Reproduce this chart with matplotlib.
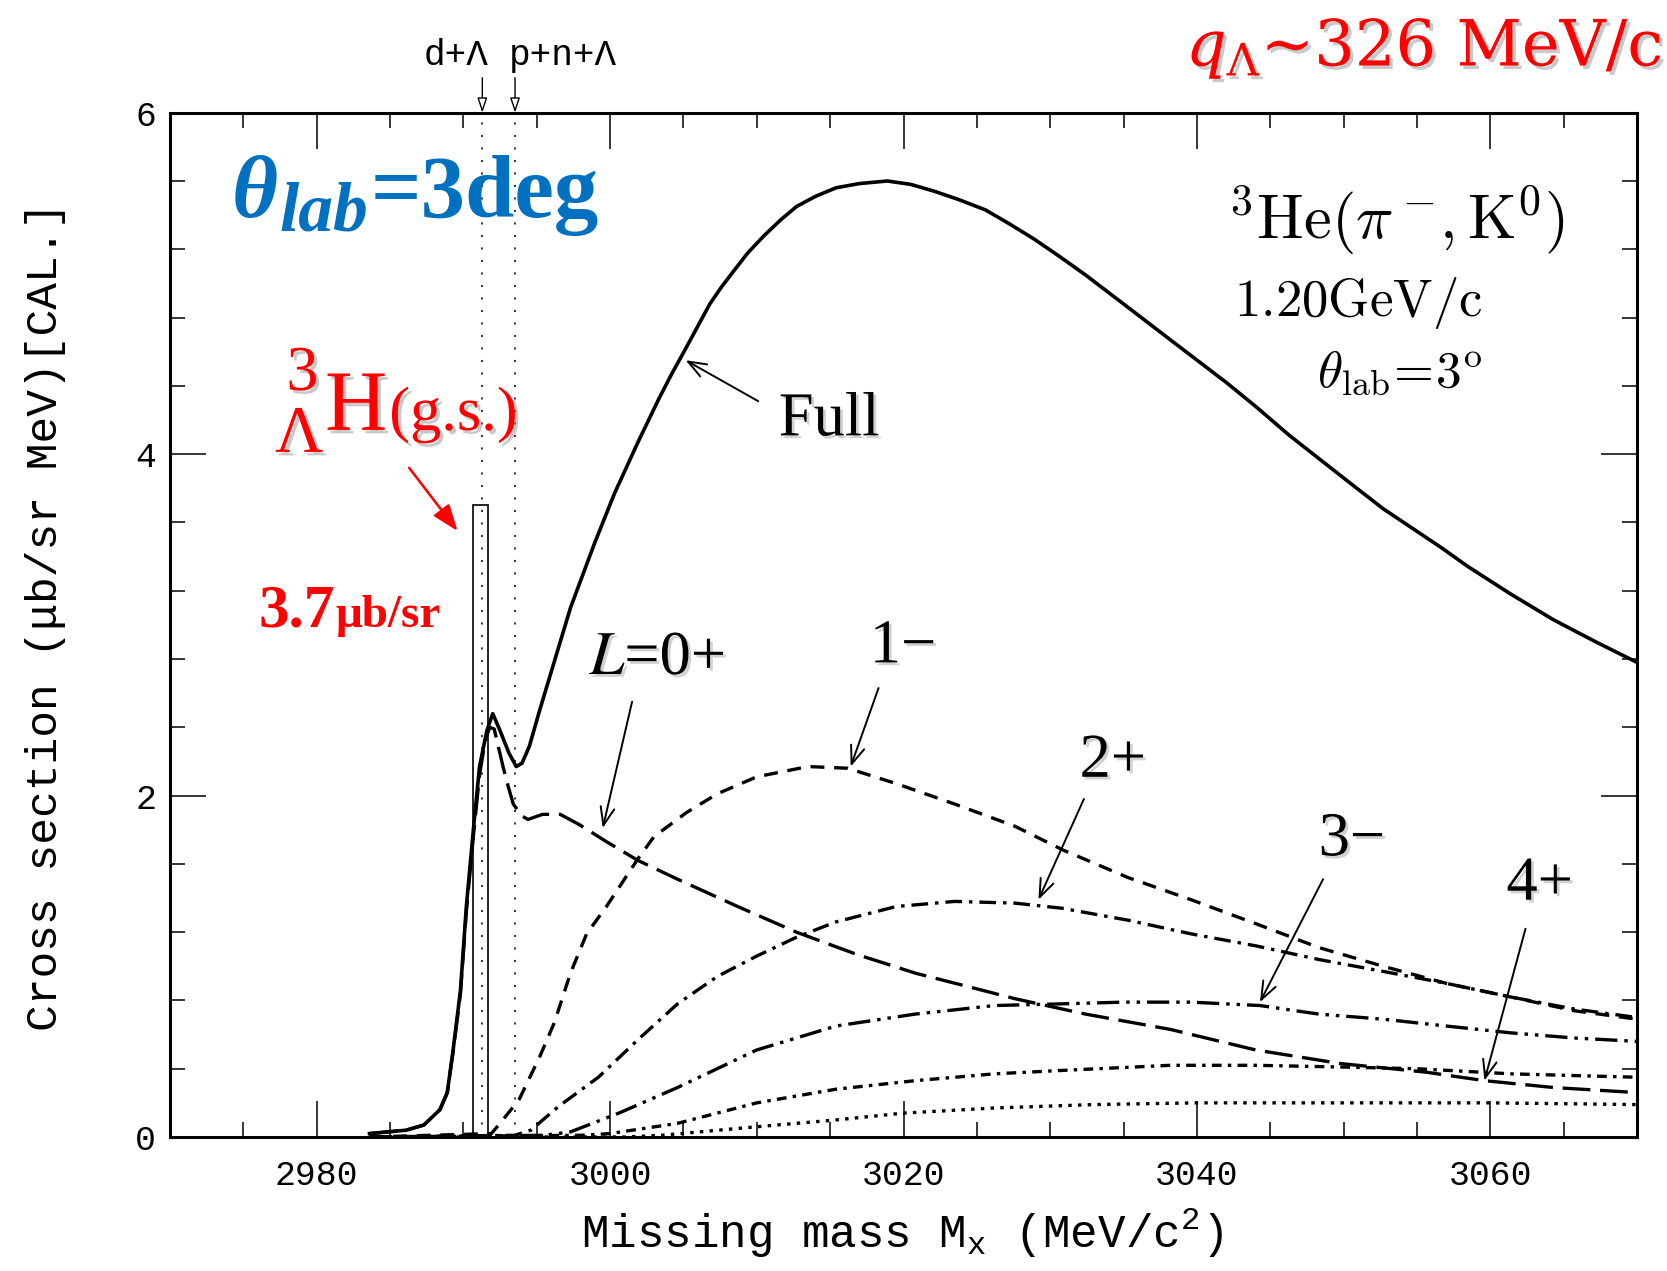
import numpy as np
import matplotlib
matplotlib.use("Agg")
import matplotlib.pyplot as plt
import matplotlib.patheffects as pe
import matplotlib.transforms as mtransforms
from matplotlib.patches import Rectangle
from matplotlib.ticker import MultipleLocator

plt.rcParams["font.family"] = "Liberation Mono"
plt.rcParams["lines.scale_dashes"] = False
plt.rcParams["mathtext.fontset"] = "custom"
plt.rcParams["mathtext.rm"] = "Liberation Mono"
plt.rcParams["mathtext.it"] = "Liberation Mono:italic"

# ---------------------------------------------------------------- data
# Missing mass (MeV/c^2) and cross sections (ub/sr MeV), 3He(pi-,K0) at 1.20 GeV/c, 3 deg
full_x = [2983.6, 2986.1, 2987.3, 2988.4, 2988.9, 2989.3, 2989.8, 2990.2, 2990.7, 2991.1,
          2991.6, 2992.0, 2992.5, 2993.1, 2993.6, 2994.0, 2994.5, 2995.2, 2996.6, 2997.3,
          2998.95, 3000.3, 3001.9, 3003.3, 3004.2, 3005.1, 3006.8, 3007.6, 3008.4, 3009.4,
          3010.5, 3011.6, 3012.7, 3014.0, 3015.4, 3017.0, 3018.9, 3020.5, 3022.1, 3023.8,
          3025.6, 3027.2, 3028.9, 3030.6, 3032.4, 3035.3, 3039.1, 3042.0, 3044.0, 3046.3,
          3050.6, 3052.7, 3056.7, 3058.5, 3061.4, 3064.3, 3067.2, 3070.0]
full_y = [0.02, 0.04, 0.07, 0.16, 0.26, 0.51, 0.86, 1.35, 1.82, 2.17,
          2.38, 2.48, 2.38, 2.25, 2.17, 2.19, 2.29, 2.50, 2.90, 3.10,
          3.48, 3.77, 4.07, 4.32, 4.47, 4.61, 4.88, 4.98, 5.07, 5.18,
          5.28, 5.37, 5.45, 5.51, 5.56, 5.585, 5.60, 5.58, 5.54, 5.49,
          5.43, 5.35, 5.26, 5.16, 5.05, 4.86, 4.61, 4.42, 4.28, 4.11,
          3.82, 3.68, 3.45, 3.34, 3.18, 3.03, 2.90, 2.78]

l0_x = [2983.6, 2986.1, 2987.3, 2988.4, 2988.9, 2989.3, 2989.8, 2990.2, 2990.7, 2991.1,
        2991.5, 2991.8, 2992.1, 2992.7, 2993.0, 2993.4, 2994.0, 2994.4, 2995.4, 2996.6,
        2997.9, 2999.75, 3001.9, 3004.6, 3008.7, 3012.7, 3016.8, 3020.8, 3024.9, 3027.6,
        3030.8, 3032.4, 3038.2, 3044.0, 3049.8, 3055.6, 3059.6, 3064.3, 3070.0]
l0_y = [0.02, 0.04, 0.07, 0.16, 0.26, 0.50, 0.84, 1.32, 1.78, 2.12,
        2.33, 2.40, 2.39, 2.17, 2.07, 1.95, 1.88, 1.86, 1.89, 1.89,
        1.83, 1.73, 1.62, 1.51, 1.35, 1.20, 1.07, 0.96, 0.87, 0.81,
        0.75, 0.72, 0.63, 0.51, 0.43, 0.38, 0.33, 0.29, 0.26]

l1_x = [2983.6, 2991.9, 2992.5, 2993.8, 2995.2, 2996.2, 2997.3, 2998.4, 2999.75, 3001.9,
        3003.0, 3005.2, 3007.3, 3010.0, 3013.5, 3016.2, 3019.5, 3023.5, 3027.6, 3030.9,
        3035.3, 3039.6, 3044.0, 3048.3, 3052.7, 3057.0, 3061.4, 3065.7, 3070.0]
l1_y = [0.00, 0.02, 0.08, 0.22, 0.47, 0.67, 0.96, 1.19, 1.35, 1.63,
        1.76, 1.90, 2.01, 2.11, 2.17, 2.16, 2.07, 1.95, 1.82, 1.68,
        1.52, 1.39, 1.25, 1.11, 1.00, 0.90, 0.82, 0.74, 0.69]

l2_x = [2983.6, 2993.5, 2994.6, 2996.5, 2999.2, 3001.9, 3004.6, 3007.3, 3010.0, 3012.7,
        3015.4, 3019.5, 3023.5, 3027.6, 3030.8, 3035.3, 3039.6, 3044.0, 3048.3, 3052.7,
        3057.0, 3061.4, 3065.7, 3070.0]
l2_y = [0.00, 0.01, 0.04, 0.18, 0.35, 0.57, 0.78, 0.94, 1.06, 1.17,
        1.26, 1.35, 1.38, 1.37, 1.34, 1.27, 1.19, 1.12, 1.04, 0.97,
        0.90, 0.82, 0.75, 0.70]

l3_x = [2983.6, 2995.5, 2997.3, 3000.6, 3004.6, 3010.0, 3015.4, 3020.8, 3026.2, 3030.8,
        3035.0, 3039.6, 3044.3, 3048.3, 3052.7, 3057.0, 3061.4, 3065.7, 3070.0]
l3_y = [0.00, 0.01, 0.03, 0.14, 0.29, 0.51, 0.65, 0.72, 0.77, 0.78,
        0.79, 0.79, 0.77, 0.72, 0.69, 0.65, 0.61, 0.58, 0.56]

l4_x = [2983.6, 2998.0, 3000.0, 3004.6, 3010.0, 3015.4, 3020.8, 3026.2, 3030.8, 3038.2,
        3044.0, 3049.8, 3055.0, 3061.4, 3070.0]
l4_y = [0.00, 0.01, 0.02, 0.08, 0.20, 0.28, 0.33, 0.37, 0.39, 0.42,
        0.42, 0.41, 0.40, 0.37, 0.35]

l5_x = [2983.6, 3001.0, 3003.5, 3010.0, 3015.4, 3020.0, 3026.2, 3033.0, 3040.0, 3050.0,
        3060.0, 3070.0]
l5_y = [0.00, 0.00, 0.01, 0.06, 0.10, 0.14, 0.17, 0.19, 0.20, 0.20,
        0.20, 0.19]

# bound state and thresholds
gs_mass = 2991.17          # 3_Lambda H ground state
gs_xs = 3.7                # ub/sr
gs_bin = 1.06              # MeV
thr_dL = 2991.29           # d + Lambda
thr_pnL = 2993.52          # p + n + Lambda

x_ticks = [2980, 3000, 3020, 3040, 3060]
y_ticks = [0, 2, 4, 6]

# ---------------------------------------------------------------- figure
W, H = 1667, 1271
fig = plt.figure(figsize=(W / 100, H / 100), dpi=100)
ax = fig.add_axes([170 / W, 1 - 1137 / H, (1637 - 170) / W, (1137 - 112.7) / H])
ax.set_xlim(2970, 3070)
ax.set_ylim(0, 6)

black = "black"
lw = 2.4
ax.plot(full_x, full_y, color=black, lw=2.6, solid_joinstyle="round")
ax.plot(l0_x, l0_y, color=black, lw=lw, linestyle=(0, (20, 7)))
ax.plot(l1_x, l1_y, color=black, lw=lw, linestyle=(0, (10, 7)))
ax.plot(l2_x, l2_y, color=black, lw=lw, linestyle=(0, (12, 5, 2.5, 5)))
ax.plot(l3_x, l3_y, color=black, lw=lw, linestyle=(0, (16, 5, 2.5, 5, 2.5, 5)))
ax.plot(l4_x, l4_y, color=black, lw=lw, linestyle=(0, (7, 4.5, 2.5, 4.5)))
ax.plot(l5_x, l5_y, color=black, lw=lw, linestyle=(0, (2.5, 4.5)))

# ground-state peak drawn as a single bin
ax.add_patch(Rectangle((gs_mass - gs_bin / 2, 0), gs_bin, gs_xs,
                       fill=False, ec=black, lw=1.2))

# thresholds
for xt in (thr_dL, thr_pnL):
    ax.plot([xt, xt], [0, 6], color=black, lw=1.1, linestyle=(0, (1.5, 7.5)))
    ax.annotate("", xy=(xt, 6.0), xytext=(xt, 6.205), annotation_clip=False,
                arrowprops=dict(arrowstyle="-|>,head_length=0.9,head_width=0.3",
                                fc="white", ec=black, lw=1.0, shrinkA=0, shrinkB=0,
                                mutation_scale=10))
ax.text(thr_dL + 0.45, 6.28, "d+Λ", ha="right", va="baseline", fontsize=26)
ax.text(thr_pnL - 0.45, 6.28, "p+n+Λ", ha="left", va="baseline", fontsize=26)

# ---------------------------------------------------------------- axes styling
for s in ax.spines.values():
    s.set_linewidth(2.2)
ax.set_xticks(x_ticks)
ax.set_yticks(y_ticks)
ax.xaxis.set_minor_locator(MultipleLocator(5))
ax.yaxis.set_minor_locator(MultipleLocator(0.4))
ax.tick_params(which="both", direction="in", top=True, right=True, width=1.1)
ax.tick_params(which="major", length=26)
ax.tick_params(which="minor", length=11)
ax.tick_params(axis="x", which="major", labelsize=25, pad=16)
ax.tick_params(axis="y", which="major", labelsize=25, pad=10)

ax.set_xlabel("Missing mass M$_\\mathrm{x}$ (MeV/c$^\\mathrm{2}$)", fontsize=33,
              math_fontfamily="custom")
ax.xaxis.set_label_coords(0.4987, -0.068)
ax.set_ylabel("Cross section (μb/sr MeV)[CAL.]", fontsize=32)
ax.yaxis.set_label_coords(-0.071, 0.508)

# ---------------------------------------------------------------- text helpers
px_id = mtransforms.IdentityTransform()
renderer = fig.canvas.get_renderer()
shadow = [pe.withSimplePatchShadow(offset=(2, -2), shadow_rgbFace="#999999", alpha=0.45)]


def run_text(x, y, parts, gap=0.0, **common):
    """Write pieces of text one after another starting at data point (x, y)."""
    px, py = ax.transData.transform((x, y))
    out = []
    for s, dy, kw in parts:
        kk = dict(common)
        kk.update(kw)
        t = fig.text(px, py + dy, s, transform=px_id, ha="left", va="baseline", **kk)
        bb = t.get_window_extent(renderer)
        px = bb.x1 + gap
        out.append(t)
    return out


# reaction and kinematics
ax.text(3042.1, 5.26, r"$^3\mathrm{He}(\pi^-\!,\mathrm{K}^0)$", fontsize=45,
        math_fontfamily="cm", ha="left", va="baseline")
ax.text(3042.5, 4.81, r"$\mathrm{1.20GeV/c}$", fontsize=38, math_fontfamily="cm",
        ha="left", va="baseline")
ax.text(3048.2, 4.39, r"$\theta_\mathrm{lab}\!=\!\mathrm{3}^{\mathrm{o}}$", fontsize=37,
        math_fontfamily="cm", ha="left", va="baseline")

# partial-wave labels with arrows
lab_kw = dict(fontsize=45, family="Liberation Serif", ha="left", va="baseline",
              path_effects=shadow, math_fontfamily="stix")
ax.text(3011.5, 4.11, "Full", **lab_kw)
ax.text(2998.6, 2.71, "$L$=0+", **lab_kw)
ax.text(3017.7, 2.78, "1−", **lab_kw)
ax.text(3032.0, 2.11, "2+", **lab_kw)
ax.text(3048.3, 1.65, "3−", **lab_kw)
ax.text(3061.1, 1.39, "4+", **lab_kw)

arrow_kw = dict(arrowstyle="->,head_length=1.3,head_width=0.5", color=black, lw=1.4,
                shrinkA=0, shrinkB=0, mutation_scale=10)
for (x0, y0), (x1, y1) in [((3010.1, 4.31), (3005.15, 4.55)),
                           ((3001.5, 2.55), (2999.5, 1.81)),
                           ((3018.3, 2.63), (3016.4, 2.17)),
                           ((3032.3, 1.98), (3029.2, 1.39)),
                           ((3048.6, 1.51), (3044.3, 0.79)),
                           ((3062.4, 1.22), (3059.6, 0.33))]:
    ax.annotate("", xy=(x1, y1), xytext=(x0, y0), arrowprops=arrow_kw)

# red / blue slide annotations
red = "#FF0000"
blue = "#0070C0"
red_shadow = [pe.withSimplePatchShadow(offset=(2.5, -2.5), shadow_rgbFace="#888888", alpha=0.45)]

fig.text(1662 / W, 1 - 66 / H, r"$q_{\Lambda}$~326 MeV/c", color=red, fontsize=46,
         family="DejaVu Serif", math_fontfamily="dejavuserif", ha="right", va="baseline",
         path_effects=red_shadow)

run_text(2974.2, 5.39,
         [("θ", 0, dict(fontsize=64, style="italic")),
          ("lab", -14, dict(fontsize=50, style="italic")),
          ("=3deg", 0, dict(fontsize=64))],
         gap=2, color=blue, family="Liberation Serif", weight="bold")

ax.text(2977.94, 4.376, "3", color=red, fontsize=46, family="Liberation Serif",
        ha="left", va="baseline", path_effects=red_shadow)
ax.text(2977.16, 4.013, "Λ", color=red, fontsize=48, family="Liberation Serif",
        ha="left", va="baseline", path_effects=red_shadow)
run_text(2980.57, 4.142,
         [("H", 0, dict(fontsize=62)),
          ("(g.s.)", 0, dict(fontsize=45))],
         gap=2, color=red, family="Liberation Serif", path_effects=red_shadow)

run_text(2976.0, 2.99,
         [("%.1f" % gs_xs, 0, dict(fontsize=44)),
          ("μb/sr", 0, dict(fontsize=34))],
         gap=1, color=red, family="Liberation Serif", weight="bold")

ax.annotate("", xy=(2989.6, 3.55), xytext=(2986.3, 3.92),
            arrowprops=dict(arrowstyle="-|>,head_length=1.6,head_width=0.6", color=red,
                            lw=1.8, shrinkA=0, shrinkB=0, mutation_scale=10))

fig.savefig("out.png", dpi=100, facecolor="white")
